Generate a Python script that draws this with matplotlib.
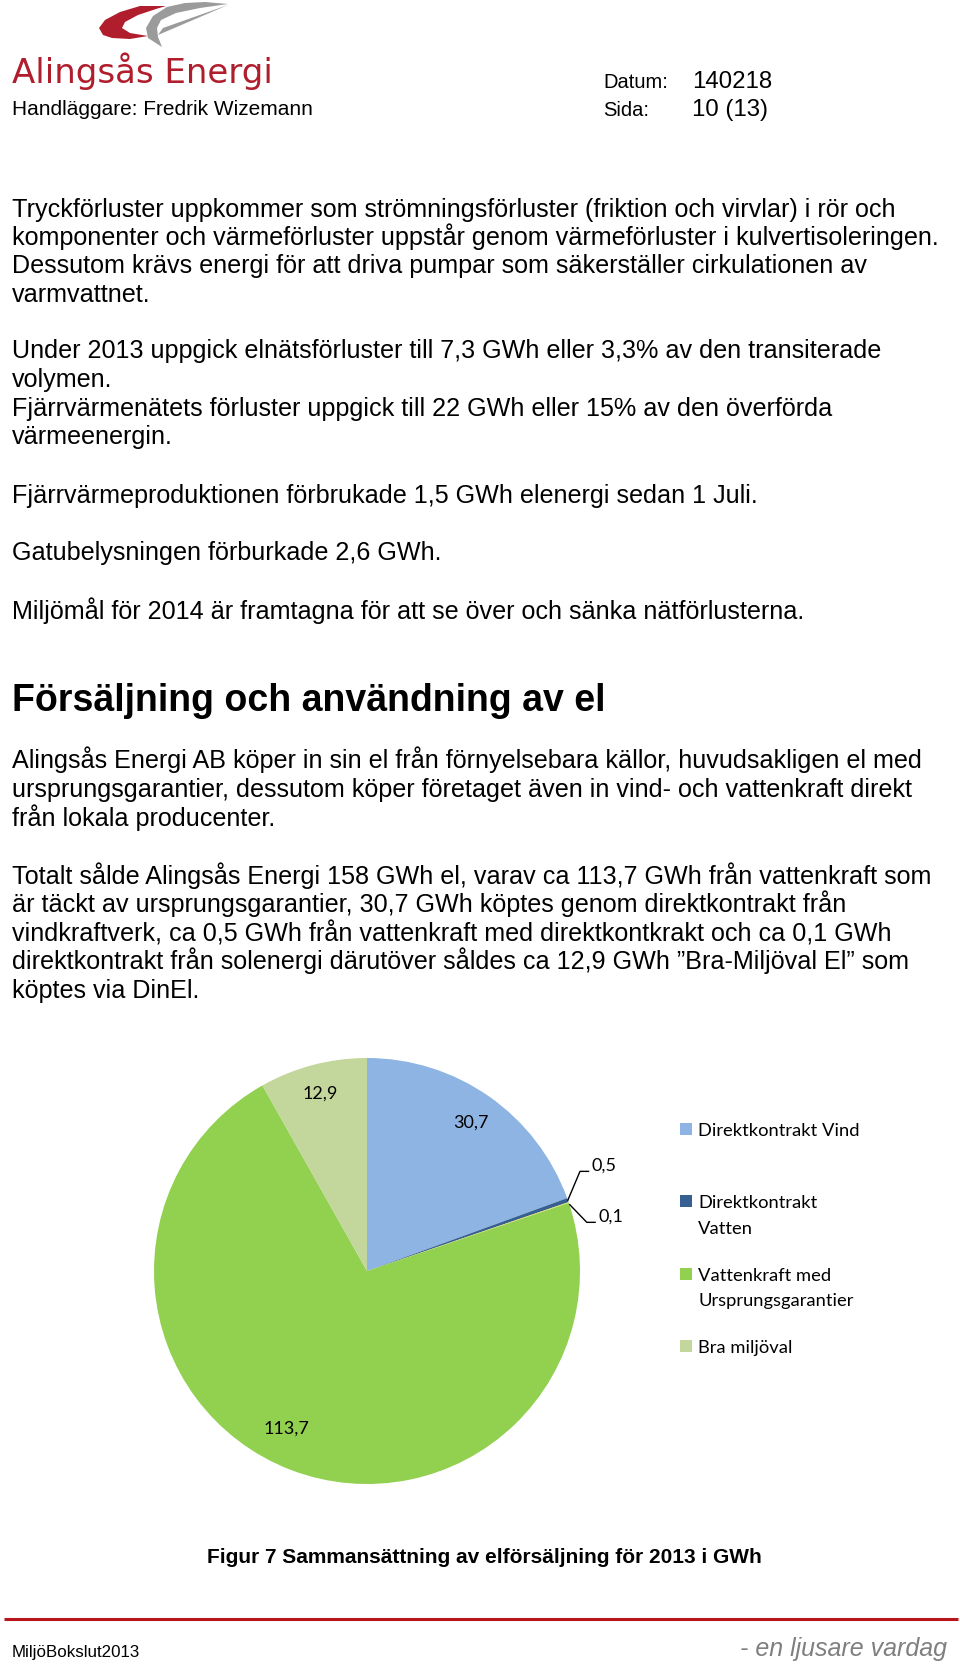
import numpy as np
import matplotlib
matplotlib.use('Agg')
import matplotlib.pyplot as plt
from matplotlib.patches import Polygon, Rectangle

# Pie data: GWh sold 2013
sources = ['Direktkontrakt Vind', 'Direktkontrakt\nVatten', 'Direktkontrakt Sol',
           'Vattenkraft med\nUrsprungsgarantier', 'Bra miljöval']
gwh = [30.7, 0.5, 0.1, 113.7, 12.9]
value_labels = ['30,7', '0,5', '0,1', '113,7', '12,9']
colors = ['#8EB4E3', '#376092', '#E6E04A', '#92D050', '#C3D69B']
in_legend = [True, True, False, True, True]

# Page text
body_lines = [
    'Tryckförluster uppkommer som strömningsförluster (friktion och virvlar) i rör och',
    'komponenter och värmeförluster uppstår genom värmeförluster i kulvertisoleringen.',
    'Dessutom krävs energi för att driva pumpar som säkerställer cirkulationen av',
    'varmvattnet.',
    'Under 2013 uppgick elnätsförluster till 7,3 GWh eller 3,3% av den transiterade',
    'volymen.',
    'Fjärrvärmenätets förluster uppgick till 22 GWh eller 15% av den överförda',
    'värmeenergin.',
    'Fjärrvärmeproduktionen förbrukade 1,5 GWh elenergi sedan 1 Juli.',
    'Gatubelysningen förburkade 2,6 GWh.',
    'Miljömål för 2014 är framtagna för att se över och sänka nätförlusterna.',
]
body_y = [217, 245, 273, 302, 358, 387, 416, 444, 503, 560, 619]

heading = 'Försäljning och användning av el'
sales_lines = [
    'Alingsås Energi AB köper in sin el från förnyelsebara källor, huvudsakligen el med',
    'ursprungsgarantier, dessutom köper företaget även in vind- och vattenkraft direkt',
    'från lokala producenter.',
    'Totalt sålde Alingsås Energi 158 GWh el, varav ca 113,7 GWh från vattenkraft som',
    'är täckt av ursprungsgarantier, 30,7 GWh köptes genom direktkontrakt från',
    'vindkraftverk, ca 0,5 GWh från vattenkraft med direktkontkrakt och ca 0,1 GWh',
    'direktkontrakt från solenergi därutöver såldes ca 12,9 GWh \u201dBra-Miljöval El\u201d som',
    'köptes via DinEl.',
]
sales_y = [768, 797, 826, 884, 912, 941, 969, 998]
caption = 'Figur 7 Sammansättning av elförsäljning för 2013 i GWh'

narrow = ['Liberation Sans Narrow', 'Liberation Sans', 'DejaVu Sans']
arial = ['Liberation Sans', 'DejaVu Sans']
calibri = ['Lato', 'DejaVu Sans']
red = '#B01E2D'
grey = '#9B9B9B'

fig = plt.figure(figsize=(9.6, 16.66), dpi=100)
fig.patch.set_facecolor('white')

# page axes in pixel coordinates (y downwards)
page = fig.add_axes([0, 0, 1, 1])
page.set_xlim(0, 960)
page.set_ylim(1666, 0)
page.axis('off')

# logo swooshes
red_swoosh = [(166, 6), (140, 6), (120, 12), (105, 20), (99, 28), (103, 35), (112, 38),
              (130, 39), (148, 36), (130, 33), (122, 28), (125, 22), (138, 15),
              (156, 9)]
grey_band = [(228, 4), (205, 2), (185, 3), (167, 7), (153, 16), (146, 28), (148, 38),
             (162, 47), (158, 37), (157, 28), (161, 20), (176, 13), (200, 8)]
grey_bar = [(158, 35), (163, 28), (228, 5)]
page.add_patch(Polygon(red_swoosh, closed=True, fc=red, ec='none'))
page.add_patch(Polygon(grey_band, closed=True, fc=grey, ec='none'))
page.add_patch(Polygon(grey_bar, closed=True, fc=grey, ec='none'))

page.text(12, 83, 'Alingsås Energi', family=['DejaVu Sans'], fontsize=24.5,
          color=red, va='baseline')
page.text(12, 115, 'Handläggare: Fredrik Wizemann', family=arial, fontsize=15,
          va='baseline')
page.text(603, 88, 'Datum:', family=arial, fontsize=14.5, va='baseline')
page.text(692, 88, '140218', family=arial, fontsize=17.3, va='baseline')
page.text(603, 116, 'Sida:', family=arial, fontsize=14.5, va='baseline')
page.text(692, 116, '10 (13)', family=arial, fontsize=17.3, va='baseline')

for s, y in zip(body_lines, body_y):
    page.text(12, y, s, family=narrow, fontsize=18.1, va='baseline')
page.text(12, 711, heading, family=narrow, fontsize=27, weight='bold', va='baseline')
for s, y in zip(sales_lines, sales_y):
    page.text(12, y, s, family=narrow, fontsize=18.1, va='baseline')

page.text(484, 1563, caption, family=narrow, fontsize=15, weight='bold',
          ha='center', va='baseline')

# footer
page.plot([4, 958], [1619, 1619], color='#B8151C', lw=2.2, solid_capstyle='butt')
page.text(12, 1657, 'MiljöBokslut2013', family=narrow, fontsize=12.2, va='baseline')
page.text(947, 1656, '- en ljusare vardag', family=narrow, fontsize=18,
          style='italic', color='#7F7F7F', ha='right', va='baseline')

# pie chart, centre (367, 1271) px, radius 213 px
cx, cy, r = 367, 1271, 213
ax = fig.add_axes([(cx - r) / 960, 1 - (cy + r) / 1666, 2 * r / 960, 2 * r / 1666])
wedges, _ = ax.pie(gwh, colors=colors, startangle=90, counterclock=False,
                   wedgeprops=dict(linewidth=0))
ax.set_xlim(-1, 1)
ax.set_ylim(-1, 1)
ax.set_aspect('equal')
ax.axis('off')

lab_font = dict(family=calibri, fontsize=13)
label_r = [0.85, None, None, 0.83, 0.86]
label_turn = [0, 0, 0, -6, 0]   # best-fit nudge, degrees
for i, (w, lab, v) in enumerate(zip(wedges, value_labels, gwh)):
    mid = np.deg2rad((w.theta1 + w.theta2) / 2)
    ex, ey = np.cos(mid), np.sin(mid)
    if v >= 1:
        ang = mid + np.deg2rad(label_turn[i])
        ax.text(label_r[i] * np.cos(ang), label_r[i] * np.sin(ang), lab,
                ha='center', va='center', **lab_font)
    elif v >= 0.3:
        pts = [(ex, ey), (ex + 0.057, ey + 0.135), (ex + 0.097, ey + 0.135)]
        ax.plot(*zip(*pts), color='black', lw=1, clip_on=False)
        ax.text(ex + 0.112, ey + 0.14, lab, ha='left', va='baseline', **lab_font)
    else:
        pts = [(ex + 0.005, ey - 0.01), (ex + 0.085, ey - 0.093), (ex + 0.124, ey - 0.093)]
        ax.plot(*zip(*pts), color='black', lw=1, clip_on=False)
        ax.text(ex + 0.14, ey - 0.088, lab, ha='left', va='baseline', **lab_font)

# legend: Excel style, one slot per entry, square beside the first line
slot_y = 1136
for w, s, keep in zip(wedges, sources, in_legend):
    if not keep:
        continue
    page.add_patch(Rectangle((680, slot_y - 13), 12, 12, fc=w.get_facecolor(), ec='none'))
    for k, part in enumerate(s.split('\n')):
        page.text(698, slot_y + 25.5 * k, part, family=calibri, fontsize=13.2,
                  va='baseline')
    slot_y += 72.3

fig.savefig('out.png', dpi=100, facecolor='white')
